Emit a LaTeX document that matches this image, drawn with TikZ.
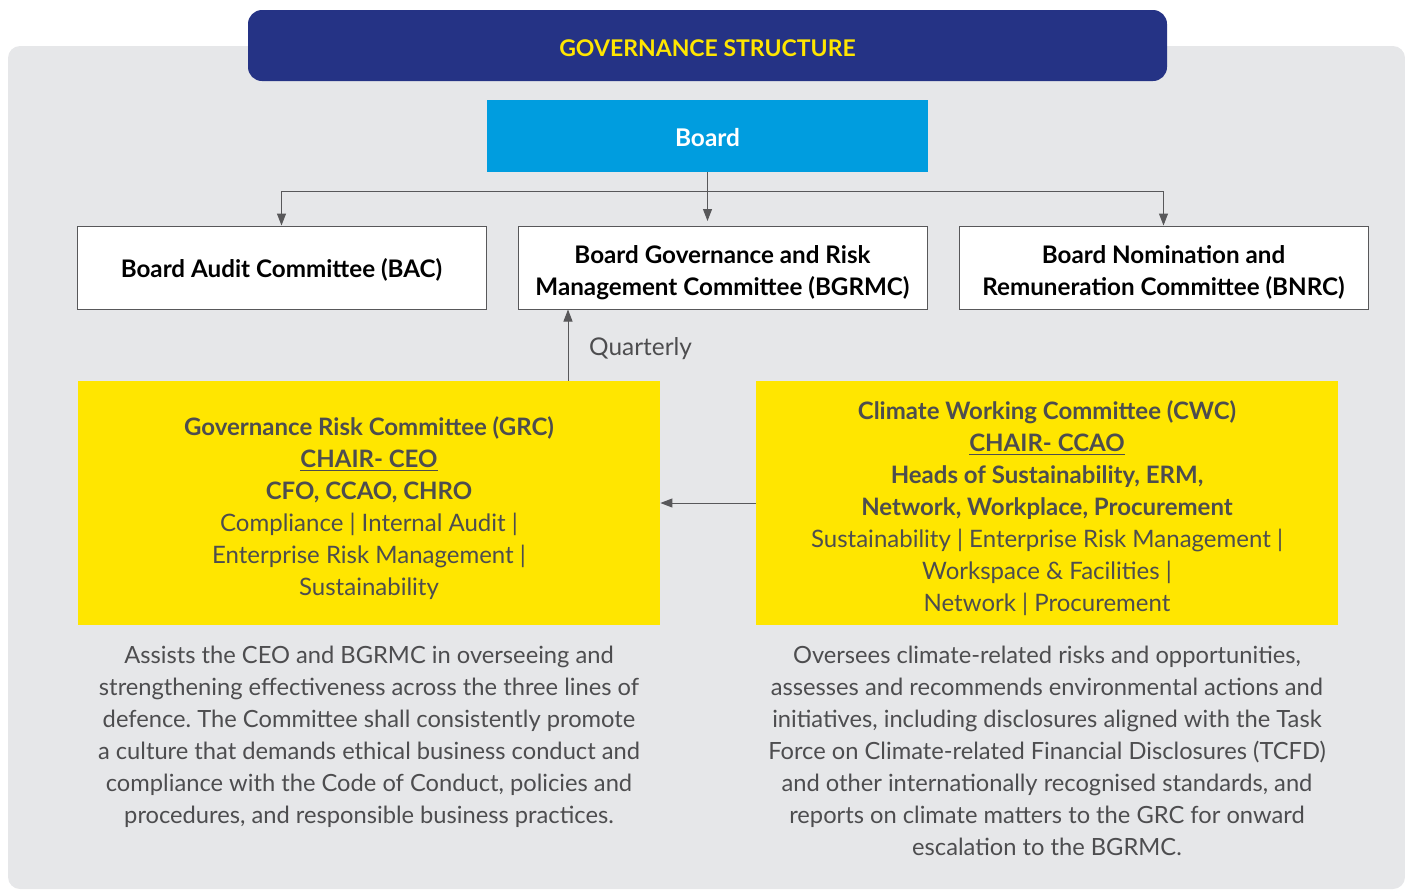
\documentclass[tikz,border=0pt]{standalone}
\usepackage{fontspec}
\setmainfont{Lato}
\usetikzlibrary{arrows.meta,positioning}
\definecolor{navy}{HTML}{253385}
\definecolor{sky}{HTML}{009DDF}
\definecolor{sun}{HTML}{FFE600}
\definecolor{panel}{HTML}{E6E7E9}
\definecolor{ink}{HTML}{4D4D4F}
\definecolor{wire}{HTML}{58585A}
\frenchspacing
\newcommand{\lift}{\rule{0pt}{14.2pt}}
\tikzset{
  drop/.style={execute at begin node={\rule{0pt}{#1}}},
  title/.style={
    rectangle,
    rounded corners=7pt,
    fill=navy,
    text=sun,
    minimum width=459.5pt,
    minimum height=35.5pt,
    drop=11pt,
    font=\bfseries\fontsize{11.5}{16}\selectfont
  },
  board/.style={
    rectangle,
    fill=sky,
    text=white,
    minimum width=220.5pt,
    minimum height=36pt,
    drop=11pt,
    font=\bfseries\fontsize{12.2}{16}\selectfont
  },
  committee/.style={
    rectangle,
    draw=wire,
    line width=0.5pt,
    fill=white,
    align=center,
    minimum width=204.5pt,
    minimum height=41.5pt,
    inner sep=0pt,
    font=\bfseries\fontsize{12.1}{16}\selectfont
  },
  working/.style={
    rectangle,
    fill=sun,
    text=ink,
    align=center,
    minimum width=291pt,
    minimum height=122pt,
    inner sep=0pt,
    font=\fontsize{12}{16}\selectfont
  },
  remark/.style={
    text=ink,
    align=center,
    inner sep=0pt,
    font=\fontsize{11.85}{16}\selectfont
  },
  arrow/.style={-{Triangle[length=6pt,width=4.5pt]}, draw=wire, line width=0.5pt}
}

\begin{document}
\begin{tikzpicture}[x=0.5pt, y=-0.5pt, node distance=15.5pt and 15.5pt]
  \useasboundingbox (0,0) rectangle (1405,890);
  \fill[panel, rounded corners=6pt] (8,46) rectangle (1405,889);

  \node[title] (title) at (707.5,45.5) {GOVERNANCE STRUCTURE};
  \node[board] (board) at (707.5,136) {Board};

  \node[committee] (bgrmc) at (722.5,267.5) {\lift Board Governance and Risk\\Management Committee (BGRMC)};
  \node[committee, drop=11.5pt, left=of bgrmc] (bac) {Board Audit Committee (BAC)};
  \node[committee, right=of bgrmc] (bnrc) {\lift Board Nomination and\\Remuneration Committee (BNRC)};

  \node[working] (grc) at (369,503) {%
    \lift\textbf{Governance Risk Committee (GRC)}\\
    \textbf{\underline{CHAIR- CEO}}\\
    \textbf{CFO, CCAO, CHRO}\\
    Compliance | Internal Audit |\\
    Enterprise Risk Management |\\
    Sustainability};
  \node[working] (cwc) at (1047,503) {%
    \lift\textbf{Climate Working Committee (CWC)}\\
    \textbf{\underline{CHAIR- CCAO}}\\
    \textbf{Heads of Sustainability, ERM,}\\
    \textbf{Network, Workplace, Procurement}\\
    Sustainability | Enterprise Risk Management |\\
    Workspace \& Facilities |\\
    Network | Procurement};

  \node[remark, below=10pt of grc] (grcnote) {%
    Assists the CEO and BGRMC in overseeing and\\
    strengthening effectiveness across the three lines of\\
    defence. The Committee shall consistently promote\\
    a culture that demands ethical business conduct and\\
    compliance with the Code of Conduct, policies and\\
    procedures, and responsible business practices.};
  \node[remark, below=10pt of cwc] (cwcnote) {%
    Oversees climate-related risks and opportunities,\\
    assesses and recommends environmental actions and\\
    initiatives, including disclosures aligned with the Task\\
    Force on Climate-related Financial Disclosures (TCFD)\\
    and other internationally recognised standards, and\\
    reports on climate matters to the GRC for onward\\
    escalation to the BGRMC.};

  \coordinate (split) at (707.5,191);
  \draw[wire, line width=0.5pt] (board.south) -- (split);
  \draw[arrow] (split) -- (707.5,221);
  \draw[arrow] (split) -| (bac.north);
  \draw[arrow] (split) -| (bnrc.north);
  \draw[arrow] (grc.north -| 568,0) -- node[right=7pt, yshift=-2pt, text=ink, font=\fontsize{12.2}{16}\selectfont] {Quarterly} (bgrmc.south -| 568,0);
  \draw[arrow] (cwc.west) -- (grc.east);
\end{tikzpicture}
\end{document}
